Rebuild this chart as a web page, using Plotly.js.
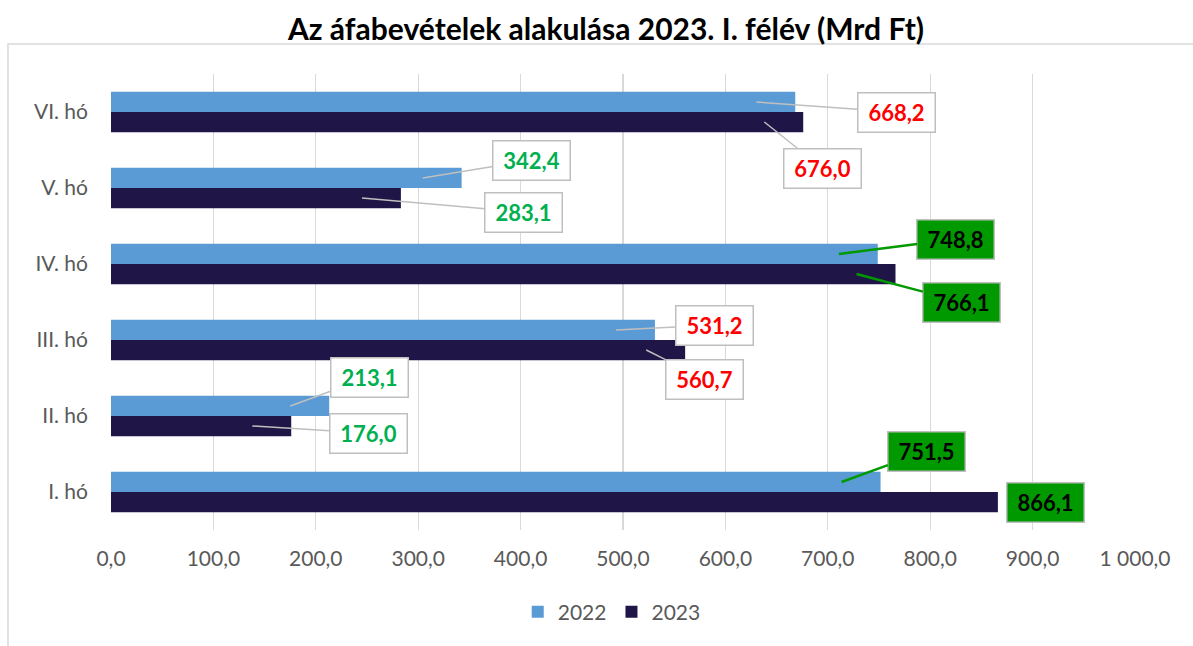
<!DOCTYPE html>
<html><head><meta charset="utf-8">
<script src="https://cdn.plot.ly/plotly-3.0.1.min.js"></script>
<style>body{margin:0;background:#fff}#chart{width:1193px;height:646px}</style>
</head><body><div id="chart"></div>
<script>
const months = ["I. hó","II. hó","III. hó","IV. hó","V. hó","VI. hó"];
const v2022 = [751.5, 213.1, 531.2, 748.8, 342.4, 668.2];
const v2023 = [866.1, 176.0, 560.7, 766.1, 283.1, 676.0];
const tickVals = [0,100,200,300,400,500,600,700,800,900,1000];

// label styling / placement (pixel offsets of callout boxes)
const style2022 = ["greenbox","green","red","greenbox","green","red"];
const style2023 = ["greenboxplain","green","red","greenbox","green","red"];
const off2022 = [[85,-31],[79,-29],[98,-5],[117,-15],[109,-18],[140,10]];
const off2023 = [[0,0],[116,7],[58,29],[105,28],[162,14],[58,46]];

function fmt(v){return v.toFixed(1).replace('.',',');}
const FONT = "Lato, 'Open Sans', sans-serif";

function makeAnn(val, cat, st, off, shift){
  const base = {
    xref:'x', yref:'y', y:cat, yshift:shift, text:'<b>'+fmt(val)+'</b>',
    font:{family:FONT, size:22, color: st==='red' ? '#FF0000' : (st==='green' ? '#00B050' : '#000000')},
    bgcolor: st.startsWith('greenbox') ? '#009A00' : '#FFFFFF',
    bordercolor:'#BFBFBF', borderwidth:1.5, borderpad:4,
    width:68, height:30, align:'center', valign:'middle'
  };
  if(st==='greenboxplain'){
    return Object.assign(base,{x:val, showarrow:false, xanchor:'left', xshift:8});
  }
  return Object.assign(base,{
    x: val-38, showarrow:true, arrowhead:0, arrowwidth: st==='greenbox' ? 2.5 : 1.5,
    arrowcolor: st==='greenbox' ? '#009A00' : '#BFBFBF',
    axref:'pixel', ayref:'pixel', ax:off[0], ay:off[1], standoff:0
  });
}

const annotations = [];
months.forEach((m,i)=>{
  annotations.push(makeAnn(v2022[i], m, style2022[i], off2022[i], 10));
  annotations.push(makeAnn(v2023[i], m, style2023[i], off2023[i], -10));
});

// 2023 first so that 2022 is drawn on top within each group
const traces = [
  {type:'bar', orientation:'h', name:'2023', y:months, x:v2023, marker:{color:'#201547'}, hoverinfo:'x'},
  {type:'bar', orientation:'h', name:'2022', y:months, x:v2022, marker:{color:'#5B9BD5'}, hoverinfo:'x'}
];

const layout = {
  width:1193, height:646,
  margin:{l:111, r:58, t:74, b:116},
  paper_bgcolor:'#fff', plot_bgcolor:'#fff',
  separators:', ',
  font:{family:FONT, color:'#595959'},
  title:{text:'<b>Az áfabevételek alakulása 2023. I. félév (Mrd Ft)</b>', x:0.508, xanchor:'center', y:0.955, yanchor:'middle',
         font:{family:FONT, size:30, color:'#000000'}},
  barmode:'group', bargap:0.47, bargroupgap:0,
  xaxis:{range:[0,1000], tickvals:tickVals, tickformat:',.1f', showgrid:true, gridcolor:'#D9D9D9', gridwidth:1.3,
         zeroline:false, showline:false, ticks:'', tickfont:{family:FONT, size:21, color:'#595959'}, fixedrange:true, ticklabelstandoff:14},
  yaxis:{type:'category', categoryorder:'array', categoryarray:months, showgrid:false, zeroline:false, showline:false,
         ticks:'', tickfont:{family:FONT, size:21, color:'#595959'}, ticklabelstandoff:22, fixedrange:true},
  legend:{orientation:'h', x:0.489, xanchor:'center', y:-0.18, yanchor:'middle', font:{family:FONT, size:21, color:'#595959'}, traceorder:'reversed'},
  annotations: annotations,
  shapes:[{type:'rect', xref:'paper', yref:'paper', x0:-0.1006, x1:1.2, y0:-0.4, y1:1.0658, line:{color:'#D9D9D9', width:1.5}, layer:'below'}]
};
Plotly.newPlot('chart', traces, layout, {displayModeBar:false, staticPlot:true});
</script></body></html>
